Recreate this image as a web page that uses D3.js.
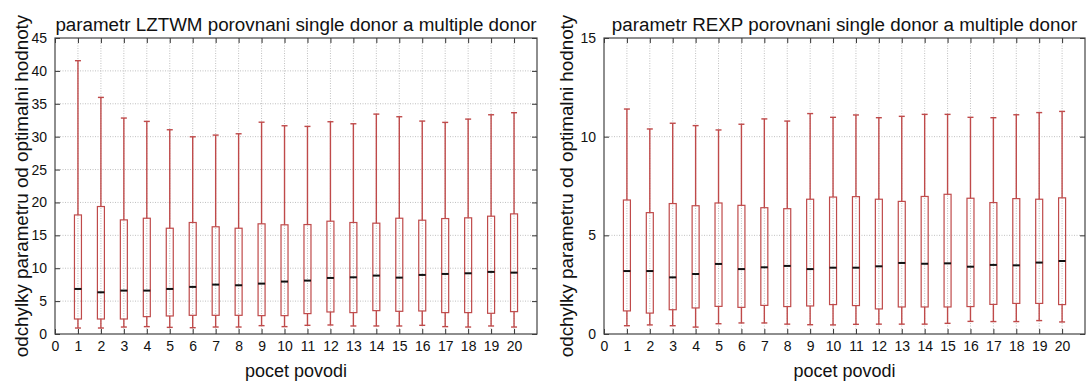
<!DOCTYPE html>
<html>
<head>
<meta charset="utf-8">
<script src="https://cdn.jsdelivr.net/npm/d3@7"></script>
<style>
  html, body { margin: 0; padding: 0; background: #fff; }
  svg { display: block; }
  text { font-family: "Liberation Sans", Arial, Helvetica, sans-serif; fill: #111; }
</style>
</head>
<body>
<svg id="chart" width="1088" height="381"></svg>
<script>
// Category positions (number of catchments) shared by both panels
const categories = d3.range(1, 21);
const xTickLabels = d3.range(0, 21);

// LZTWM parameter deviations: whisker ends, quartiles and medians
const lztwmLow  = [0.91,0.91,1.06,1.12,1.01,0.96,1.06,1.06,1.27,1.12,1.32,1.37,1.22,1.22,1.22,1.32,1.12,1.06,1.22,1.06];
const lztwmQ1   = [2.28,2.28,2.28,2.64,2.74,2.84,2.84,2.84,2.79,2.79,3.10,3.35,3.25,3.55,3.45,3.50,3.25,3.25,3.15,3.40];
const lztwmMed  = [6.85,6.34,6.60,6.60,6.85,7.16,7.51,7.41,7.66,7.97,8.12,8.52,8.62,8.88,8.57,8.98,9.13,9.23,9.44,9.33];
const lztwmQ3   = [18.10,19.38,17.35,17.60,16.08,16.95,16.30,16.08,16.75,16.60,16.64,17.15,16.95,16.85,17.60,17.30,17.55,17.66,17.91,18.26];
const lztwmHigh = [41.55,35.97,32.83,32.32,31.05,29.98,30.24,30.44,32.20,31.66,31.56,32.27,31.96,33.43,33.03,32.37,32.17,32.67,33.33,33.64];
const lztwmTicks = [0,5,10,15,20,25,30,35,40,45];

// REXP parameter deviations
const rexpLow  = [0.42,0.46,0.42,0.35,0.52,0.56,0.56,0.50,0.47,0.46,0.49,0.50,0.50,0.50,0.54,0.64,0.63,0.63,0.68,0.61];
const rexpQ1   = [1.17,1.06,1.23,1.32,1.40,1.35,1.45,1.39,1.42,1.49,1.44,1.27,1.37,1.37,1.37,1.39,1.50,1.55,1.55,1.49];
const rexpMed  = [3.19,3.19,2.87,3.04,3.55,3.29,3.38,3.45,3.29,3.36,3.36,3.43,3.60,3.56,3.58,3.41,3.50,3.48,3.62,3.70];
const rexpQ3   = [6.79,6.15,6.61,6.50,6.64,6.52,6.40,6.35,6.83,6.94,6.96,6.83,6.72,6.97,7.08,6.88,6.66,6.86,6.83,6.90];
const rexpHigh = [11.40,10.39,10.68,10.56,10.34,10.63,10.90,10.79,11.17,10.98,11.10,10.96,11.03,11.13,11.13,10.98,10.96,11.11,11.22,11.28];
const rexpTicks = [0,5,10,15];

const svg = d3.select("#chart");
const boxColor = "#bf4a4a";

function panel(opts) {
  const { left, right, top, bottom, yMax, yTicks, low, q1, med, q3, high, title, labelX } = opts;
  const g = svg.append("g");
  const x = d3.scaleLinear().domain([0, 21]).range([left, right]);
  const y = d3.scaleLinear().domain([0, yMax]).range([bottom, top]);

  // dotted grid
  g.append("g").selectAll("line.gx").data(categories).join("line")
    .attr("x1", d => x(d)).attr("x2", d => x(d))
    .attr("y1", top).attr("y2", bottom)
    .attr("stroke", "#b0b0b0").attr("stroke-width", 0.8).attr("stroke-dasharray", "1,1.5");
  g.append("g").selectAll("line.gy").data(yTicks.filter(t => t > 0 && t < yMax)).join("line")
    .attr("y1", d => y(d)).attr("y2", d => y(d))
    .attr("x1", left).attr("x2", right)
    .attr("stroke", "#b0b0b0").attr("stroke-width", 0.8).attr("stroke-dasharray", "1,1.5");

  // axes with inward ticks on all four sides
  const axB = d3.axisBottom(x).tickValues(xTickLabels).tickSizeInner(-5).tickSizeOuter(0).tickPadding(7).tickFormat(d3.format("d"));
  const axT = d3.axisTop(x).tickValues(xTickLabels).tickSizeInner(-5).tickSizeOuter(0).tickFormat("");
  const axL = d3.axisLeft(y).tickValues(yTicks).tickSizeInner(-5).tickSizeOuter(0).tickPadding(8).tickFormat(d3.format("d"));
  const axR = d3.axisRight(y).tickValues(yTicks).tickSizeInner(-5).tickSizeOuter(0).tickFormat("");
  const styleAxis = sel => {
    sel.select(".domain").remove();
    sel.selectAll(".tick line").attr("stroke", "#333").attr("stroke-width", 1);
    sel.selectAll(".tick text").attr("font-size", 14).attr("fill", "#111")
      .style("font-family", '"Liberation Sans", Arial, sans-serif');
  };
  g.append("g").attr("transform", `translate(0,${bottom})`).call(axB).call(styleAxis);
  g.append("g").attr("transform", `translate(0,${top})`).call(axT).call(styleAxis);
  g.append("g").attr("transform", `translate(${left},0)`).call(axL).call(styleAxis);
  g.append("g").attr("transform", `translate(${right},0)`).call(axR).call(styleAxis);

  // frame
  g.append("rect").attr("x", left).attr("y", top)
    .attr("width", right - left).attr("height", bottom - top)
    .attr("fill", "none").attr("stroke", "#444").attr("stroke-width", 1.2);

  // box plots
  const bw = 7, cw = 6;
  const rows = categories.map((c, i) => ({ c, lo: low[i], q1: q1[i], md: med[i], q3: q3[i], hi: high[i] }));
  const b = g.append("g").selectAll("g").data(rows).join("g");
  b.append("line").attr("x1", d => x(d.c)).attr("x2", d => x(d.c))
    .attr("y1", d => y(d.q3)).attr("y2", d => y(d.hi))
    .attr("stroke", boxColor).attr("stroke-width", 1.4);
  b.append("line").attr("x1", d => x(d.c)).attr("x2", d => x(d.c))
    .attr("y1", d => y(d.lo)).attr("y2", d => y(d.q1))
    .attr("stroke", boxColor).attr("stroke-width", 1.4);
  b.append("line").attr("x1", d => x(d.c) - cw / 2).attr("x2", d => x(d.c) + cw / 2)
    .attr("y1", d => y(d.hi)).attr("y2", d => y(d.hi))
    .attr("stroke", boxColor).attr("stroke-width", 1.4);
  b.append("line").attr("x1", d => x(d.c) - cw / 2).attr("x2", d => x(d.c) + cw / 2)
    .attr("y1", d => y(d.lo)).attr("y2", d => y(d.lo))
    .attr("stroke", boxColor).attr("stroke-width", 1.4);
  b.append("rect").attr("x", d => x(d.c) - bw / 2).attr("width", bw)
    .attr("y", d => y(d.q3)).attr("height", d => y(d.q1) - y(d.q3))
    .attr("fill", "none").attr("stroke", boxColor).attr("stroke-width", 1.2);
  b.append("line").attr("x1", d => x(d.c) - bw / 2).attr("x2", d => x(d.c) + bw / 2)
    .attr("y1", d => y(d.md)).attr("y2", d => y(d.md))
    .attr("stroke", "#111").attr("stroke-width", 2);

  // titles and axis labels
  g.append("text").attr("x", (left + right) / 2).attr("y", 31)
    .attr("text-anchor", "middle").attr("font-size", 18.8).text(title);
  g.append("text").attr("x", (left + right) / 2).attr("y", 377)
    .attr("text-anchor", "middle").attr("font-size", 18).text("pocet povodi");
  g.append("text")
    .attr("transform", `translate(${labelX},${(top + bottom) / 2}) rotate(-90)`)
    .attr("text-anchor", "middle").attr("font-size", 18.8)
    .text("odchylky parametru od optimalni hodnoty");
}

panel({ left: 55, right: 537, top: 38, bottom: 334, yMax: 45, yTicks: lztwmTicks,
  low: lztwmLow, q1: lztwmQ1, med: lztwmMed, q3: lztwmQ3, high: lztwmHigh,
  title: "parametr LZTWM porovnani single donor a multiple donor", labelX: 28 });
panel({ left: 604, right: 1085, top: 38, bottom: 334, yMax: 15, yTicks: rexpTicks,
  low: rexpLow, q1: rexpQ1, med: rexpMed, q3: rexpQ3, high: rexpHigh,
  title: "parametr REXP porovnani single donor a multiple donor", labelX: 573 });
</script>
</body>
</html>
